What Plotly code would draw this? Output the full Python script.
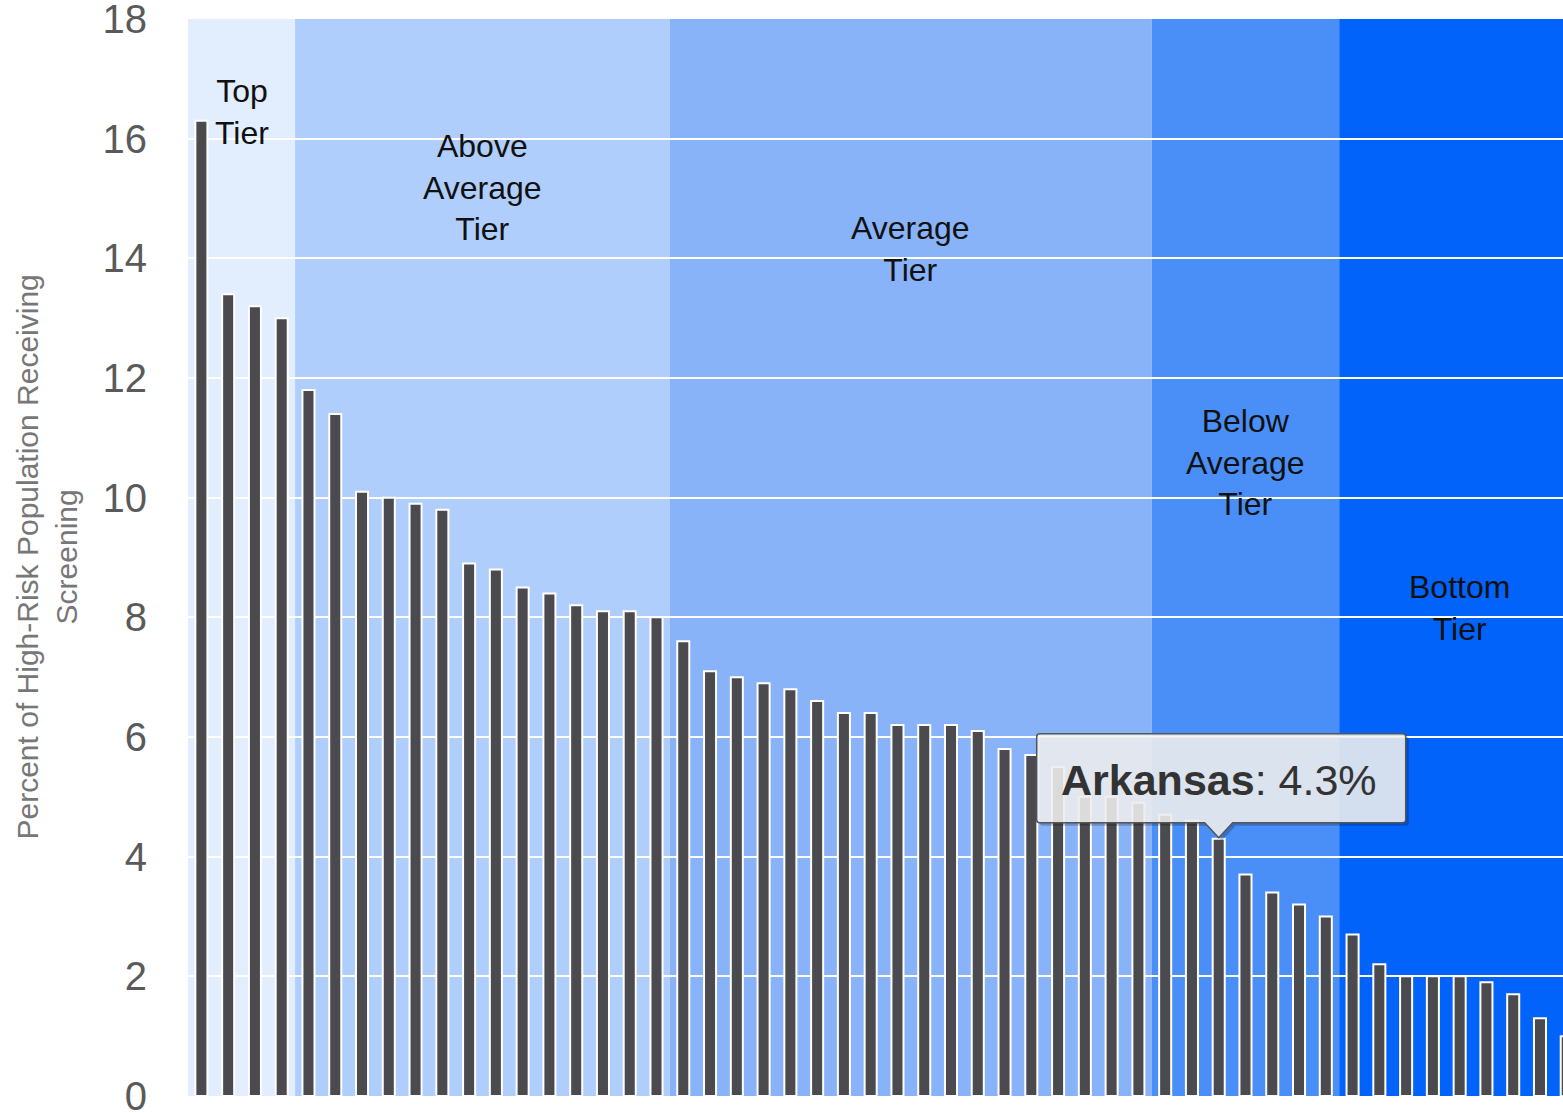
import plotly.graph_objects as go

# ---------------- data ----------------
values = [16.3, 13.4, 13.2, 13.0, 11.8, 11.4, 10.1, 10.0, 9.9, 9.8,
          8.9, 8.8, 8.5, 8.4, 8.2, 8.1, 8.1, 8.0, 7.6, 7.1,
          7.0, 6.9, 6.8, 6.6, 6.4, 6.4, 6.2, 6.2, 6.2, 6.1,
          5.8, 5.7, 5.5, 5.0, 5.0, 4.9, 4.7, 4.6, 4.3, 3.7,
          3.4, 3.2, 3.0, 2.7, 2.2, 2.0, 2.0, 2.0, 1.9, 1.7,
          1.3, 1.0]
states = [f"State {i + 1}" for i in range(len(values))]
states[38] = "Arkansas"

tier_names = ["Top<br>Tier", "Above<br>Average<br>Tier", "Average<br>Tier",
              "Below<br>Average<br>Tier", "Bottom<br>Tier"]
tier_counts = [4, 14, 18, 7, 9]
y_ticks = [0, 2, 4, 6, 8, 10, 12, 14, 16, 18]

highlight = "Arkansas"

# ---------------- style ----------------
tier_colors = ["#e2edfd", "#afcefc", "#88b3f9", "#4a8ff7", "#0263fb"]
tier_label_y = [16.45, 15.18, 14.15, 10.59, 8.16]
FONT = "Arial, Liberation Sans, sans-serif"

x_idx = list(range(len(values)))

fig = go.Figure()
fig.add_trace(go.Bar(
    x=x_idx, y=values, width=0.45,
    marker=dict(color="#4b4b4f", line=dict(color="white", width=2)),
    customdata=states, hoverinfo="skip", showlegend=False,
))

shapes = []
annotations = []
start = 0
for name, cnt, col, ly in zip(tier_names, tier_counts, tier_colors, tier_label_y):
    x0 = start - 0.5
    x1 = start + cnt - 0.5
    shapes.append(dict(type="rect", xref="x", yref="paper", x0=x0, x1=x1, y0=0, y1=1,
                       fillcolor=col, line=dict(width=0), layer="below"))
    annotations.append(dict(x=(x0 + x1) / 2, y=ly, xref="x", yref="y", text=name,
                            showarrow=False, font=dict(family=FONT, size=32, color="#111111"),
                            xanchor="center", yanchor="middle"))
    start += cnt

# tooltip callout anchored at highlighted bar
hi = states.index(highlight)
hv = values[hi]
box_path = ("M -179,16 L -14,16 L 0,1 L 14,16 L 184,16 Q 187,16 187,19 L 187,102 "
            "Q 187,105 184,105 L -179,105 Q -182,105 -182,102 L -182,19 Q -182,16 -179,16 Z")
shadow_path = ("M -176,13 L -11,13 L 3,-2 L 17,13 L 187,13 Q 190,13 190,16 L 190,99 "
               "Q 190,102 187,102 L -176,102 Q -179,102 -179,99 L -179,16 Q -179,13 -176,13 Z")
shapes.append(dict(type="path", xref="x", yref="y", xsizemode="pixel", ysizemode="pixel",
                   xanchor=hi, yanchor=hv, path=shadow_path,
                   fillcolor="rgba(0,0,0,0.22)", line=dict(width=0), layer="above"))
shapes.append(dict(type="path", xref="x", yref="y", xsizemode="pixel", ysizemode="pixel",
                   xanchor=hi, yanchor=hv, path=box_path,
                   fillcolor="rgba(246,246,246,0.86)", line=dict(color="#555555", width=1.5),
                   layer="above"))
annotations.append(dict(x=hi, y=hv, xref="x", yref="y",
                        text=f"<b>{highlight}</b>: {hv}%", showarrow=False,
                        font=dict(family=FONT, size=43, color="#333333"),
                        xanchor="center", yanchor="middle", yshift=59))

# y axis title
annotations.append(dict(x=0, y=0.5, xref="paper", yref="paper", xshift=-142,
                        text="Percent of High-Risk Population Receiving<br>Screening",
                        textangle=-90, showarrow=False,
                        font=dict(family=FONT, size=30, color="#777777"),
                        xanchor="center", yanchor="middle"))

fig.update_layout(
    width=1563, height=1113,
    margin=dict(l=188, r=0, t=19, b=17, autoexpand=False),
    paper_bgcolor="white", plot_bgcolor="white",
    shapes=shapes, annotations=annotations,
    bargap=0.55, showlegend=False,
    xaxis=dict(range=[-0.5, 50.86], showticklabels=False, showgrid=False,
               zeroline=False, showline=False, fixedrange=True, automargin=False),
    yaxis=dict(range=[0, 18], tickvals=y_ticks, showgrid=True, gridcolor="white",
               gridwidth=2, zeroline=False, showline=False, automargin=False,
               tickfont=dict(family=FONT, size=40, color="#5a5a5a"),
               ticklabelstandoff=40, ticklabeloverflow="allow", fixedrange=True),
)

fig.write_html("out.html", config={"displayModeBar": False},
               post_script="document.body.style.margin='0';document.body.style.overflow='hidden';")
